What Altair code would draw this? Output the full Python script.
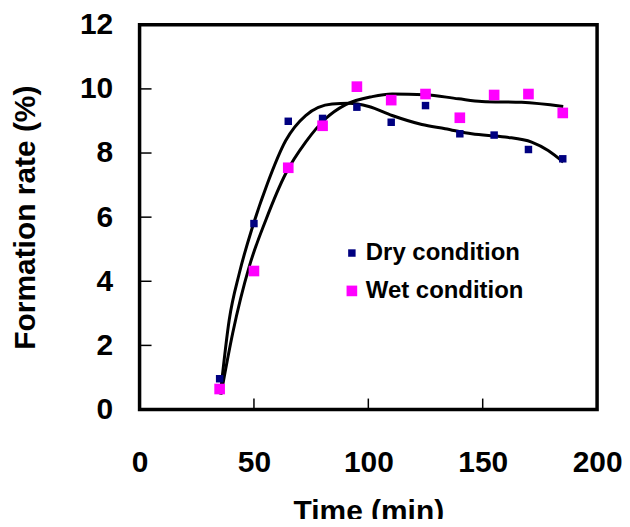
import altair as alt
import pandas as pd

# Measured points
time_pts = [35, 50, 65, 80, 95, 110, 125, 140, 155, 170, 185]
dry_vals = [0.96, 5.80, 8.99, 9.08, 9.43, 8.96, 9.48, 8.60, 8.56, 8.11, 7.82]
wet_vals = [0.64, 4.32, 7.54, 8.85, 10.07, 9.65, 9.84, 9.10, 9.81, 9.84, 9.25]

# Trend curves
dry_curve_x = [35.3, 39.2, 43.6, 49.4, 55.9, 63.9, 72.6, 84.2, 91.5, 100.2, 110.4, 123.4, 133.6, 145.2, 159.8, 171.4, 178.6, 185.2]
dry_curve_y = [0.47, 2.80, 4.25, 5.70, 7.05, 8.39, 9.17, 9.53, 9.55, 9.45, 9.17, 8.89, 8.76, 8.60, 8.50, 8.34, 8.08, 7.72]
wet_curve_x = [35.6, 40.7, 47.9, 55.2, 63.9, 72.6, 81.3, 90.1, 101.7, 110.4, 124.9, 139.4, 149.6, 167.0, 185.2]
wet_curve_y = [0.47, 2.38, 4.45, 5.91, 7.36, 8.34, 9.07, 9.51, 9.76, 9.84, 9.82, 9.69, 9.61, 9.58, 9.45]

series_names = ["Dry condition", "Wet condition"]
series_colors = ["#000080", "#FF00FF"]

x_ticks = [0, 50, 100, 150, 200]
y_ticks = [0, 2, 4, 6, 8, 10, 12]
x_inner_ticks = [50, 100, 150]
y_inner_ticks = [2, 4, 6, 8, 10]

FONT = "Liberation Sans"
W, H = 459, 386

pts = pd.DataFrame(
    {"time": time_pts * 2,
     "rate": dry_vals + wet_vals,
     "series": [series_names[0]] * len(time_pts) + [series_names[1]] * len(time_pts)}
)
curves = pd.DataFrame(
    {"time": dry_curve_x + wet_curve_x,
     "rate": dry_curve_y + wet_curve_y,
     "series": [series_names[0]] * len(dry_curve_x) + [series_names[1]] * len(wet_curve_x)}
)

xscale = alt.Scale(domain=[0, 200], nice=False, zero=False)
yscale = alt.Scale(domain=[0, 12], nice=False, zero=False)

xaxis = alt.Axis(values=x_ticks, title="Time (min)", ticks=False, tickSize=0, domain=False, grid=False,
                 labelFont=FONT, labelFontSize=30, labelFontWeight="bold", labelColor="black",
                 labelPadding=38, labelFlush=False,
                 titleFont=FONT, titleFontSize=30, titleFontWeight="bold", titleColor="black",
                 titleBaseline="alphabetic", titleY=111)
yaxis = alt.Axis(values=y_ticks, title="Formation rate (%)", ticks=False, tickSize=0, domain=False, grid=False,
                 labelFont=FONT, labelFontSize=30, labelFontWeight="bold", labelColor="black",
                 labelPadding=27, labelFlush=False,
                 titleFont=FONT, titleFontSize=30, titleFontWeight="bold", titleColor="black",
                 titleBaseline="alphabetic", titleX=-105)

lines = alt.Chart(curves).mark_line(color="black", strokeWidth=3, interpolate="monotone").encode(
    x=alt.X("time:Q", scale=xscale, axis=xaxis),
    y=alt.Y("rate:Q", scale=yscale, axis=yaxis),
    detail="series:N",
)

legend = alt.Legend(orient="none", legendX=201, legendY=217, title=None, padding=0,
                    labelFont=FONT, labelFontSize=24, labelFontWeight="bold", labelColor="black",
                    labelOffset=2, rowPadding=14, symbolType="square", symbolStrokeWidth=0,
                    symbolOpacity=1)

points = alt.Chart(pts).mark_point(shape="square", filled=True, opacity=1).encode(
    x=alt.X("time:Q", scale=xscale),
    y=alt.Y("rate:Q", scale=yscale),
    color=alt.Color("series:N", scale=alt.Scale(domain=series_names, range=series_colors), legend=legend),
    size=alt.Size("series:N", scale=alt.Scale(domain=series_names, range=[56, 114]), legend=legend),
)

xt = alt.Chart(pd.DataFrame({"t": x_inner_ticks})).mark_rule(color="black", strokeWidth=1.5).encode(
    x=alt.X("t:Q", scale=xscale), y=alt.value(H), y2=alt.value(H - 11)
)
yt = alt.Chart(pd.DataFrame({"t": y_inner_ticks})).mark_rule(color="black", strokeWidth=1.5).encode(
    y=alt.Y("t:Q", scale=yscale), x=alt.value(0), x2=alt.value(12)
)

chart = alt.layer(xt, yt, lines, points).properties(
    width=W, height=H,
    background="white",
    autosize=alt.AutoSizeParams(type="none"),
    padding={"left": 132, "top": 16, "right": 25, "bottom": 109},
).configure_view(stroke="black", strokeWidth=3.5, strokeOpacity=1)

chart.save("out.html", embed_options={"renderer": "svg", "actions": False})
